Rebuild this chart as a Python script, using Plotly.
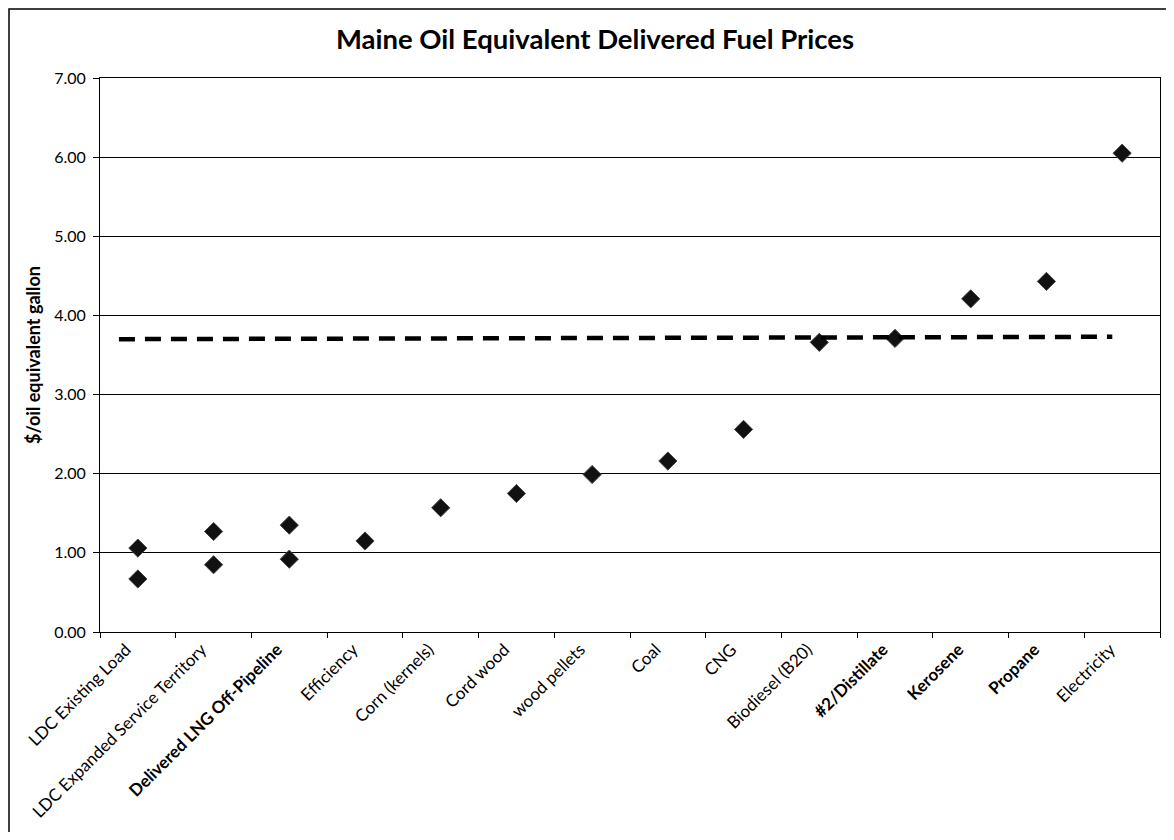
import plotly.graph_objects as go

# Fuel categories along the x axis
categories = [
    'LDC Existing Load', 'LDC Expanded Service Territory', 'Delivered LNG Off-Pipeline',
    'Efficiency', 'Corn (kernels)', 'Cord wood', 'wood pellets', 'Coal', 'CNG',
    'Biodiesel (B20)', '#2/Distillate', 'Kerosene', 'Propane', 'Electricity',
]
# labels that look bold in the original
bold_labels = ['Delivered LNG Off-Pipeline', '#2/Distillate', 'Kerosene', 'Propane']

# $/oil equivalent gallon
price_main = [1.06, 1.27, 1.35, 1.15, 1.57, 1.75, 1.99, 2.16, 2.56, 3.66, 3.71, 4.21, 4.43, 6.05]
low_categories = ['LDC Existing Load', 'LDC Expanded Service Territory', 'Delivered LNG Off-Pipeline']
price_low = [0.67, 0.85, 0.92]

# heating oil reference line (dashed)
oil_line_pos = [-0.25, 12.87]
oil_line_val = [3.70, 3.73]

y_ticks = [0, 1, 2, 3, 4, 5, 6, 7]

FONT = 'Lato, Arial, sans-serif'

# page body has an 8px margin, so the figure is sized to fit the window
W, H = 1158, 824
L, R, T, B = 92, 6, 70, 200
PW, PH = W - L - R, H - T - B


def px_x(fx):
    return (fx - L) / PW


def px_y(fy):
    return (H - B - fy) / PH


tick_text = [f'<b>{c}</b>' if c in bold_labels else c for c in categories]

fig = go.Figure()

marker = dict(symbol='diamond', size=14, color='#111111',
              line=dict(color='#444444', width=1))

fig.add_trace(go.Scatter(
    x=categories, y=price_main, mode='markers', marker=marker,
    showlegend=False, hoverinfo='x+y',
))
fig.add_trace(go.Scatter(
    x=low_categories, y=price_low, mode='markers', marker=marker,
    showlegend=False, hoverinfo='x+y',
))
fig.add_trace(go.Scatter(
    x=oil_line_pos, y=oil_line_val, mode='lines', xaxis='x2',
    line=dict(color='black', width=4.5, dash='16px,10px'),
    showlegend=False, hoverinfo='skip',
))

fig.update_layout(
    width=W, height=H,
    paper_bgcolor='white', plot_bgcolor='white',
    font=dict(family=FONT, color='black'),
    margin=dict(l=L, r=R, t=T, b=B),
    title=dict(
        text='<b>Maine Oil Equivalent Delivered Fuel Prices</b>',
        x=587 / W, xanchor='center', y=1 - 31 / H, yanchor='middle',
        font=dict(size=27.5, family=FONT, color='black'),
    ),
    xaxis=dict(
        type='category', categoryorder='array', categoryarray=categories,
        tickvals=categories, ticktext=tick_text,
        tickangle=-45, tickson='boundaries',
        ticks='outside', ticklen=5, tickcolor='black',
        ticklabelshift=-12,
        showline=True, linecolor='black', linewidth=1, mirror=True,
        showgrid=False, zeroline=False,
        tickfont=dict(size=17, family=FONT, color='black'),
        range=[-0.5, 13.5],
    ),
    xaxis2=dict(
        overlaying='x', range=[-0.5, 13.5], visible=False,
    ),
    yaxis=dict(
        range=[0, 7], tickvals=y_ticks,
        tickformat='.2f',
        ticks='outside', ticklen=6, tickcolor='black',
        ticklabelstandoff=4,
        showline=True, linecolor='black', linewidth=1, mirror=True,
        showgrid=True, gridcolor='black', gridwidth=1.2,
        zeroline=False,
        tickfont=dict(size=16, family=FONT, color='black'),
        title=dict(text='<b>$/oil equivalent gallon</b>',
                   font=dict(size=18, family=FONT, color='black'),
                   standoff=8),
    ),
    # outer chart border (right and bottom edges run past the picture)
    shapes=[dict(
        type='rect', xref='paper', yref='paper',
        x0=px_x(1), x1=px_x(W + 10), y0=px_y(H + 10), y1=px_y(1),
        line=dict(color='black', width=1.5), fillcolor='rgba(0,0,0,0)',
    )],
)

fig.write_html('out.html')
